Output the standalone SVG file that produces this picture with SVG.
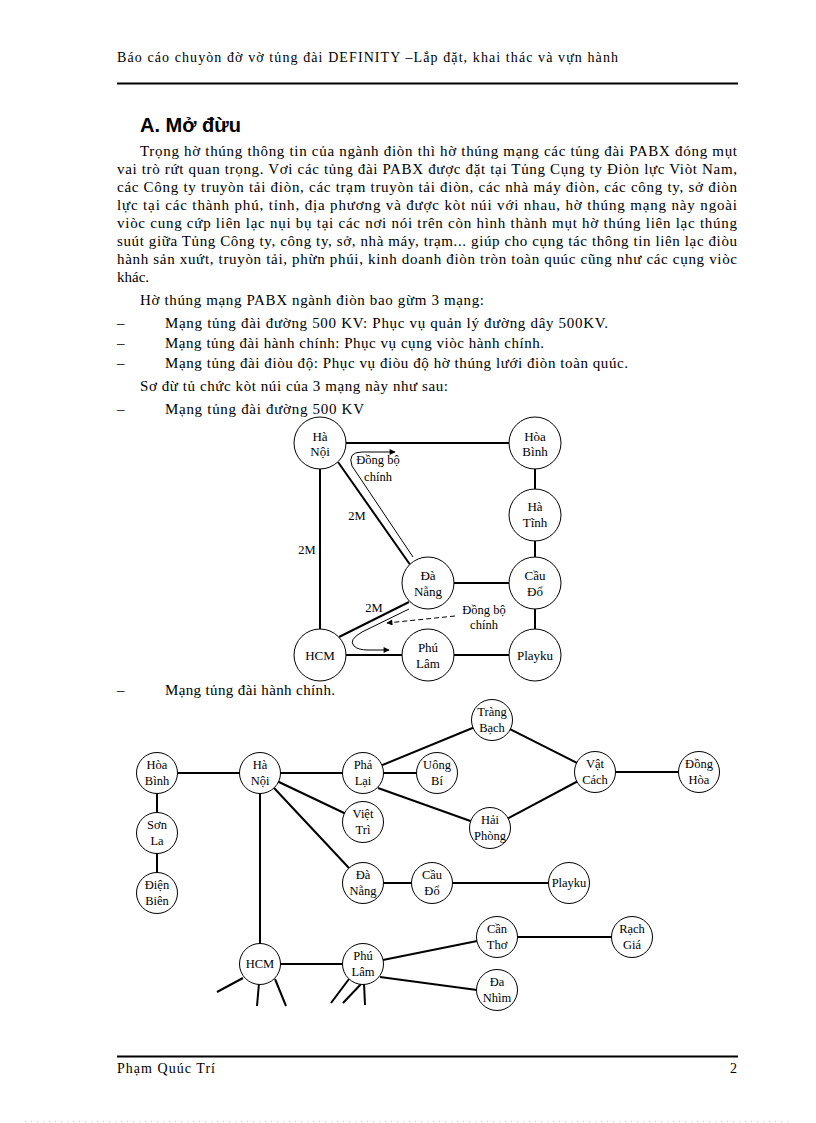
<svg xmlns="http://www.w3.org/2000/svg" width="816" height="1123" viewBox="0 0 816 1123">
<style>
.t{font-family:"Liberation Serif","Times New Roman",serif;font-size:15px;fill:#000}
.h{font-family:"Liberation Serif","Times New Roman",serif;font-size:14px;fill:#000}
.ttl{font-family:"Liberation Sans",Arial,sans-serif;font-size:20px;font-weight:bold;fill:#000}
.n1 circle{fill:#fff;stroke:#000;stroke-width:1}
.n1 text{font-family:"Liberation Serif","Times New Roman",serif;font-size:13px;text-anchor:middle;fill:#000}
.n2 circle{fill:#fff;stroke:#000;stroke-width:1}
.n2 text{font-family:"Liberation Serif","Times New Roman",serif;font-size:12.5px;text-anchor:middle;fill:#000}
.e{stroke:#000;stroke-width:2;fill:none}
.thin{stroke:#000;stroke-width:1;fill:none}
.lbl{font-family:"Liberation Serif","Times New Roman",serif;font-size:12.5px;text-anchor:middle;fill:#000}
</style>
<defs>
<marker id="ah" viewBox="0 0 10 10" refX="9" refY="5" markerWidth="7" markerHeight="6" markerUnits="userSpaceOnUse" orient="auto">
<path d="M0,0 L10,5 L0,10 z" fill="#000"/>
</marker>
</defs>
<rect width="816" height="1123" fill="#fff"/>

<g id="header">
<text class="h" x="117" y="62" textLength="501" lengthAdjust="spacing">Báo cáo chuyòn  đờ vờ tủng  đài DEFINITY –Lắp đặt, khai thác và vựn hành</text>
<line x1="117" y1="83.5" x2="738" y2="83.5" stroke="#000" stroke-width="2"/>
</g>

<g id="body">
<text class="ttl" x="140" y="132" textLength="101" lengthAdjust="spacing">A. Mở đừu</text>
<text class="t" x="140" y="156" textLength="597" lengthAdjust="spacing">Trọng hờ thúng thông tin của ngành điòn thì hờ thúng mạng các tủng đài PABX đóng mụt</text>
<text class="t" x="117" y="174" textLength="620" lengthAdjust="spacing">vai trò rứt quan trọng. Vơi các tủng đài PABX được đặt tại Tủng Cụng ty Điòn lực Viòt Nam,</text>
<text class="t" x="117" y="192" textLength="620" lengthAdjust="spacing">các Công ty truyòn tải điòn, các trạm truyòn tải điòn, các nhà máy điòn, các công ty, sở điòn</text>
<text class="t" x="117" y="210" textLength="620" lengthAdjust="spacing">lực tại các thành phú, tỉnh,  địa phương và được kòt núi với nhau, hờ thúng mạng này ngoài</text>
<text class="t" x="117" y="228" textLength="620" lengthAdjust="spacing">viòc cung cứp liên lạc nụi bụ tại các nơi nói trên còn hình thành mụt hờ thúng liên lạc thúng</text>
<text class="t" x="117" y="246" textLength="620" lengthAdjust="spacing">suút giữa Tủng Công ty, công ty, sở, nhà máy, trạm... giúp cho cụng tác thông tin liên lạc điòu</text>
<text class="t" x="117" y="264" textLength="620" lengthAdjust="spacing">hành sản xuứt, truyòn tải, phừn phúi, kinh doanh điòn tròn toàn quúc cũng như các cụng viòc</text>
<text class="t" x="117" y="282">khác.</text>
<text class="t" x="140" y="305" textLength="344" lengthAdjust="spacing">Hờ thúng mạng PABX ngành điòn bao gừm 3 mạng:</text>
<text class="t" x="117" y="328">–</text>
<text class="t" x="165" y="328" textLength="443" lengthAdjust="spacing">Mạng tủng đài đường 500 KV: Phục vụ quản lý đường dây 500KV.</text>
<text class="t" x="117" y="348">–</text>
<text class="t" x="165" y="348" textLength="379" lengthAdjust="spacing">Mạng tủng đài hành chính:  Phục vụ cụng viòc hành chính.</text>
<text class="t" x="117" y="368">–</text>
<text class="t" x="165" y="368" textLength="463" lengthAdjust="spacing">Mạng tủng đài điòu độ: Phục vụ điòu độ hờ thúng lưới điòn toàn quúc.</text>
<text class="t" x="140" y="391" textLength="308" lengthAdjust="spacing">Sơ đừ tủ chức kòt núi của 3 mạng này như sau:</text>
<text class="t" x="117" y="414">–</text>
<text class="t" x="165" y="414" textLength="199" lengthAdjust="spacing">Mạng tủng đài đường 500 KV</text>
<text class="t" x="117" y="695">–</text>
<text class="t" x="165" y="695" textLength="170" lengthAdjust="spacing">Mạng tủng đài hành chính.</text>
</g>

<g id="connectors">
<!-- diagram 1 -->
<line class="e" x1="320" y1="443" x2="535" y2="443"/>
<line class="e" x1="320" y1="443" x2="320" y2="655"/>
<line class="e" x1="535" y1="443" x2="535" y2="655"/>
<line class="e" x1="427" y1="583" x2="535" y2="583"/>
<line class="e" x1="320" y1="655" x2="535" y2="655"/>
<line class="e" x1="338" y1="462" x2="411" y2="566"/>
<line class="e" x1="409" y1="602" x2="339" y2="637"/>
<path class="thin" d="M413,557 L352,466 Q347,452 362,452 L395,452" marker-end="url(#ah)"/>
<path class="thin" d="M409,609 L362,632 Q348,640 354,646 Q358,650 368,650 L389,650" marker-end="url(#ah)"/>
<line class="thin" x1="455" y1="616" x2="387" y2="623" stroke-dasharray="5,3" marker-end="url(#ah)"/>
<!-- diagram 2 -->
<line class="e" x1="157" y1="773" x2="363" y2="773"/>
<line class="e" x1="157" y1="773" x2="157" y2="893"/>
<line class="e" x1="363" y1="773" x2="437" y2="773"/>
<line class="e" x1="363" y1="773" x2="492" y2="720"/>
<line class="e" x1="492" y1="720" x2="595" y2="772"/>
<line class="e" x1="378" y1="788" x2="490" y2="828"/>
<line class="e" x1="490" y1="828" x2="595" y2="772"/>
<line class="e" x1="595" y1="772" x2="699" y2="772"/>
<line class="e" x1="260" y1="773" x2="363" y2="822"/>
<line class="e" x1="260" y1="773" x2="363" y2="883"/>
<line class="e" x1="260" y1="773" x2="260" y2="964"/>
<line class="e" x1="363" y1="883" x2="569" y2="883"/>
<line class="e" x1="260" y1="964" x2="363" y2="964"/>
<line class="e" x1="363" y1="964" x2="497" y2="937"/>
<line class="e" x1="497" y1="937" x2="632" y2="937"/>
<line class="e" x1="380" y1="977" x2="477" y2="990"/>
<line class="e" x1="243" y1="978" x2="217" y2="992"/>
<line class="e" x1="259" y1="983" x2="257" y2="1006"/>
<line class="e" x1="275" y1="979" x2="286" y2="1006"/>
<line class="e" x1="349" y1="979" x2="331" y2="1003"/>
<line class="e" x1="362" y1="983" x2="343" y2="1003"/>
<line class="e" x1="364" y1="983" x2="365" y2="1005"/>
</g>

<g id="labels1">
<text class="lbl" x="378" y="464">Đồng bộ</text>
<text class="lbl" x="378" y="481">chính</text>
<text class="lbl" x="357" y="520">2M</text>
<text class="lbl" x="307" y="554">2M</text>
<text class="lbl" x="374" y="612">2M</text>
<text class="lbl" x="484" y="614">Đồng bộ</text>
<text class="lbl" x="484" y="629">chính</text>
</g>

<g id="n1-hanoi" class="n1"><circle cx="320" cy="443" r="26"/><text x="320" y="441">Hà</text><text x="320" y="456">Nội</text></g>
<g id="n1-hoabinh" class="n1"><circle cx="535" cy="443" r="26"/><text x="535" y="441">Hòa</text><text x="535" y="456">Bình</text></g>
<g id="n1-hatinh" class="n1"><circle cx="535" cy="515" r="26"/><text x="535" y="511">Hà</text><text x="535" y="527">Tĩnh</text></g>
<g id="n1-caudo" class="n1"><circle cx="535" cy="583" r="26"/><text x="535" y="580">Cầu</text><text x="535" y="596">Đổ</text></g>
<g id="n1-danang" class="n1"><circle cx="428" cy="583" r="26"/><text x="428" y="580">Đà</text><text x="428" y="596">Nẵng</text></g>
<g id="n1-hcm" class="n1"><circle cx="320" cy="655" r="26"/><text x="320" y="660">HCM</text></g>
<g id="n1-phulam" class="n1"><circle cx="428" cy="655" r="26"/><text x="428" y="652">Phú</text><text x="428" y="668">Lâm</text></g>
<g id="n1-playku" class="n1"><circle cx="535" cy="655" r="26"/><text x="535" y="660">Playku</text></g>

<g id="n2-hoabinh" class="n2"><circle cx="157" cy="773" r="20.5"/><text x="157" y="769">Hòa</text><text x="157" y="785">Bình</text></g>
<g id="n2-hanoi" class="n2"><circle cx="260" cy="773" r="20.5"/><text x="260" y="769">Hà</text><text x="260" y="785">Nội</text></g>
<g id="n2-phalai" class="n2"><circle cx="363" cy="773" r="20.5"/><text x="363" y="769">Phả</text><text x="363" y="785">Lại</text></g>
<g id="n2-uongbi" class="n2"><circle cx="437" cy="773" r="20.5"/><text x="437" y="769">Uông</text><text x="437" y="785">Bí</text></g>
<g id="n2-trangbach" class="n2"><circle cx="492" cy="720" r="20.5"/><text x="492" y="716">Tràng</text><text x="492" y="732">Bạch</text></g>
<g id="n2-vatcach" class="n2"><circle cx="595" cy="772" r="20.5"/><text x="595" y="768">Vật</text><text x="595" y="784">Cách</text></g>
<g id="n2-donghoa" class="n2"><circle cx="699" cy="772" r="20.5"/><text x="699" y="768">Đồng</text><text x="699" y="784">Hòa</text></g>
<g id="n2-viettri" class="n2"><circle cx="363" cy="822" r="20.5"/><text x="363" y="818">Việt</text><text x="363" y="834">Trì</text></g>
<g id="n2-haiphong" class="n2"><circle cx="490" cy="828" r="20.5"/><text x="490" y="824">Hải</text><text x="490" y="840">Phòng</text></g>
<g id="n2-sonla" class="n2"><circle cx="157" cy="833" r="20.5"/><text x="157" y="829">Sơn</text><text x="157" y="845">La</text></g>
<g id="n2-dienbien" class="n2"><circle cx="157" cy="893" r="20.5"/><text x="157" y="889">Điện</text><text x="157" y="905">Biên</text></g>
<g id="n2-danang" class="n2"><circle cx="363" cy="883" r="20.5"/><text x="363" y="879">Đà</text><text x="363" y="895">Nẵng</text></g>
<g id="n2-caudo" class="n2"><circle cx="432" cy="883" r="20.5"/><text x="432" y="879">Cầu</text><text x="432" y="895">Đổ</text></g>
<g id="n2-playku" class="n2"><circle cx="569" cy="883" r="20.5"/><text x="569" y="887">Playku</text></g>
<g id="n2-cantho" class="n2"><circle cx="497" cy="937" r="20.5"/><text x="497" y="933">Cần</text><text x="497" y="949">Thơ</text></g>
<g id="n2-rachgia" class="n2"><circle cx="632" cy="937" r="20.5"/><text x="632" y="933">Rạch</text><text x="632" y="949">Giá</text></g>
<g id="n2-danhim" class="n2"><circle cx="497" cy="990" r="20.5"/><text x="497" y="986">Đa</text><text x="497" y="1002">Nhìm</text></g>
<g id="n2-hcm" class="n2"><circle cx="260" cy="964" r="20.5"/><text x="260" y="968">HCM</text></g>
<g id="n2-phulam" class="n2"><circle cx="363" cy="964" r="20.5"/><text x="363" y="960">Phú</text><text x="363" y="976">Lâm</text></g>

<g id="footer">
<line x1="117" y1="1056.5" x2="738" y2="1056.5" stroke="#000" stroke-width="2"/>
<text class="h" x="117" y="1073" textLength="98" lengthAdjust="spacing">Phạm Quúc Trí</text>
<text class="h" x="737" y="1073" text-anchor="end">2</text>
<line x1="25" y1="1121.5" x2="792" y2="1121.5" stroke="#ccc" stroke-width="1" stroke-dasharray="1,5"/>
</g>
</svg>
